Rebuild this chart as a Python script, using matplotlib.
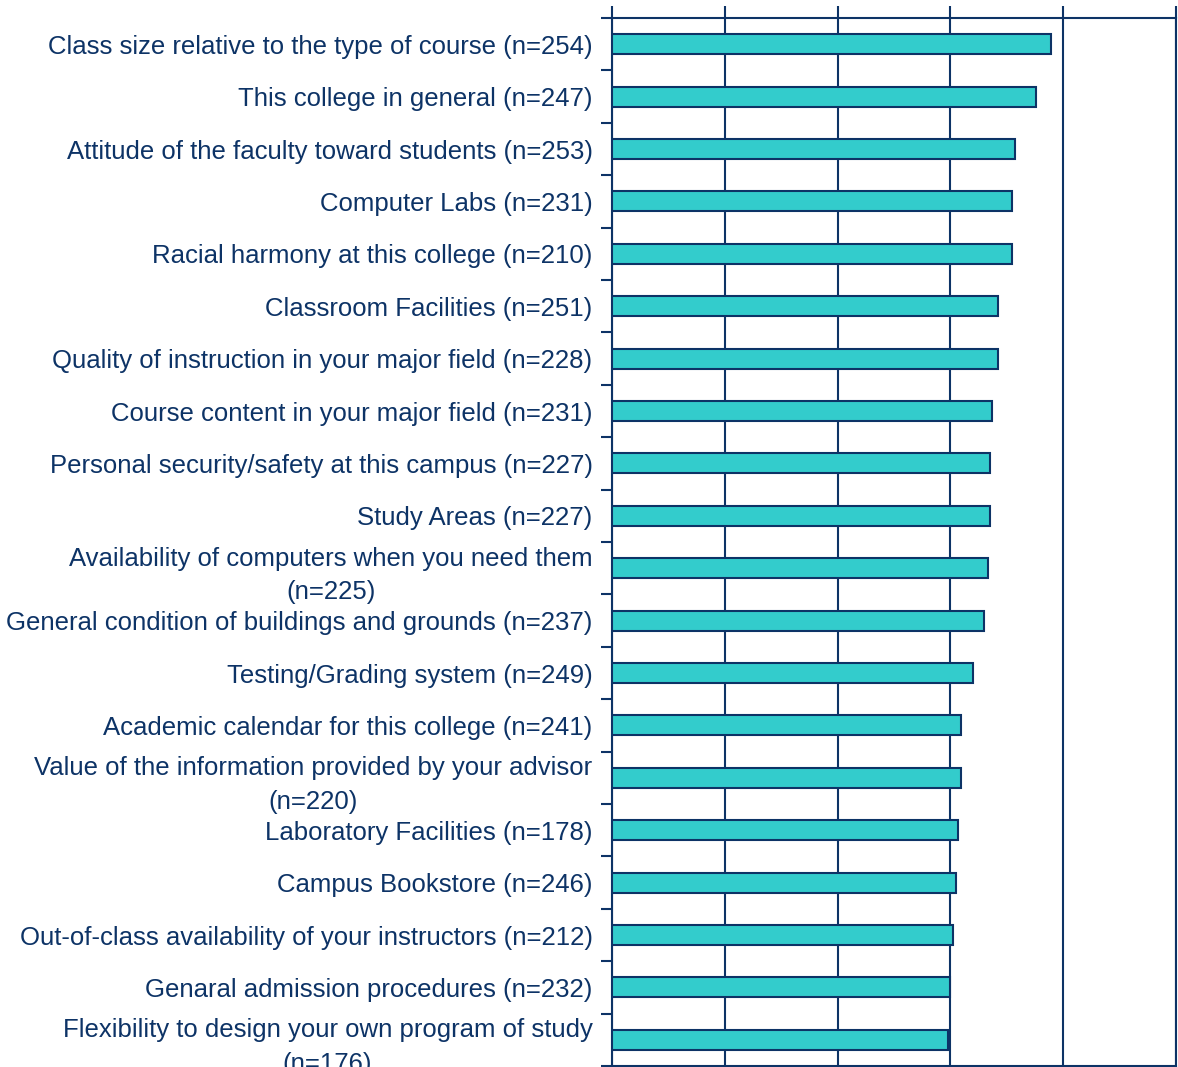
import numpy as np
import matplotlib.pyplot as plt

plt.rcParams['font.family'] = ['Liberation Sans', 'DejaVu Sans']

navy = '#0D3366'
teal = '#33CCCC'

labels = [
    'Class size relative to the type of course (n=254)',
    'This college in general (n=247)',
    'Attitude of the faculty toward students (n=253)',
    'Computer Labs (n=231)',
    'Racial harmony at this college (n=210)',
    'Classroom Facilities (n=251)',
    'Quality of instruction in your major field (n=228)',
    'Course content in your major field (n=231)',
    'Personal security/safety at this campus (n=227)',
    'Study Areas (n=227)',
    'Availability of computers when you need them\n(n=225)',
    'General condition of buildings and grounds (n=237)',
    'Testing/Grading system (n=249)',
    'Academic calendar for this college (n=241)',
    'Value of the information provided by your advisor\n(n=220)',
    'Laboratory Facilities (n=178)',
    'Campus Bookstore (n=246)',
    'Out-of-class availability of your instructors (n=212)',
    'Genaral admission procedures (n=232)',
    'Flexibility to design your own program of study\n(n=176)',
]
means = [3.89, 3.76, 3.57, 3.55, 3.55, 3.42, 3.42, 3.37, 3.35, 3.35,
         3.33, 3.30, 3.20, 3.09, 3.09, 3.07, 3.05, 3.02, 3.00, 2.98]

fig = plt.figure(figsize=(11.78, 10.67), dpi=100)
ax = fig.add_axes([612 / 1178, 1 / 1067, 564 / 1178, 1048 / 1067])

y = np.arange(len(labels))
ax.barh(y, means, height=0.38, color=teal, edgecolor=navy, linewidth=1.5, zorder=3)

ax.set_xlim(0, 5)
ax.set_ylim(len(labels) - 0.5, -0.5)

# x axis on top, no labels, gridlines behind the bars
ax.xaxis.tick_top()
ax.set_xticks(range(6))
ax.set_xticklabels([])
ax.tick_params(axis='x', direction='out', length=9, width=1.5, color=navy)
ax.grid(axis='x', color=navy, linewidth=1.5, zorder=0)
ax.set_axisbelow(True)

# category labels at centres, tick marks at boundaries
ax.set_yticks(y)
ax.set_yticklabels(labels, fontsize=18.5, color=navy, multialignment='center',
                   linespacing=1.5)
ax.set_yticks(np.arange(-0.5, len(labels), 1), minor=True)
ax.tick_params(axis='y', which='major', length=0, pad=14)
ax.tick_params(axis='y', which='minor', direction='out', length=8, width=1.5, color=navy)

for s in ax.spines.values():
    s.set_color(navy)
    s.set_linewidth(1.5)

fig.savefig('out.png', dpi=100)
